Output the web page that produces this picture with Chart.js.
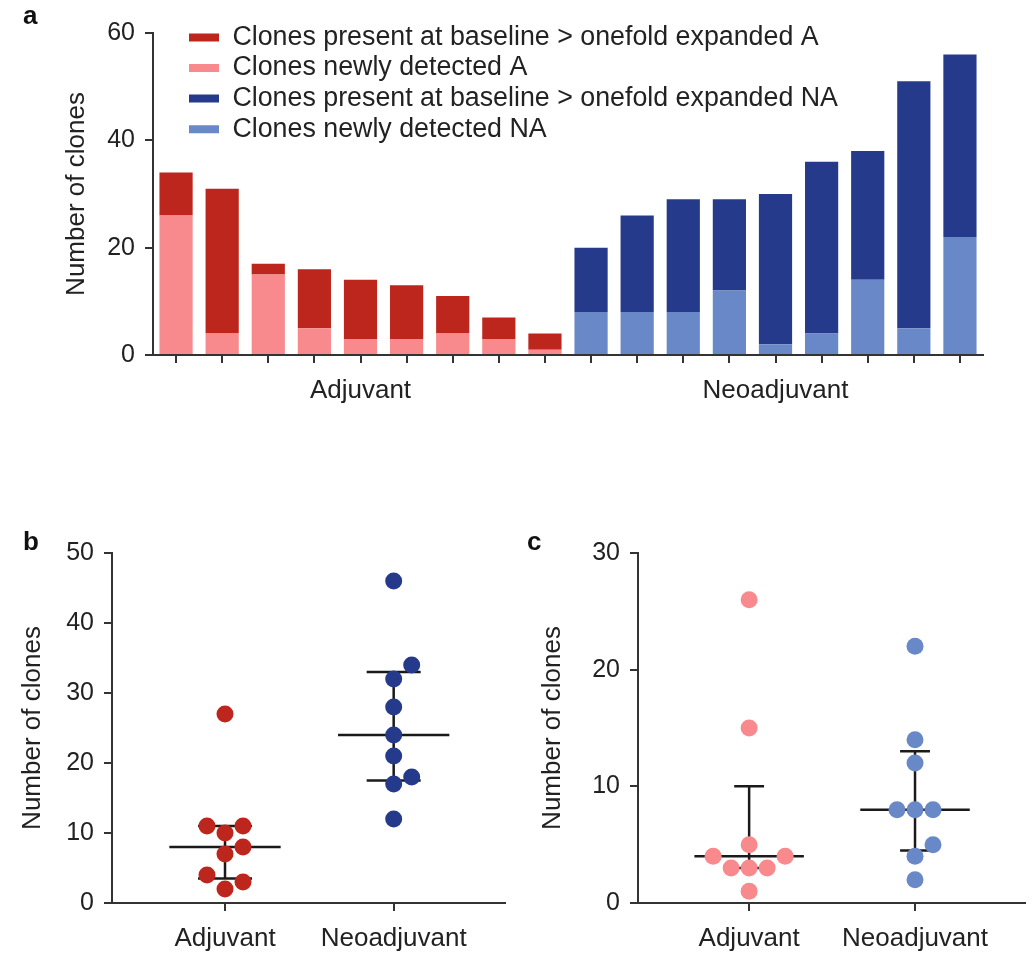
<!DOCTYPE html>
<html>
<head>
<meta charset="utf-8">
<script src="https://cdn.jsdelivr.net/npm/chart.js@4"></script>
<style>
  body { margin: 0; background: #fff; }
  #wrap { position: relative; width: 1033px; height: 959px; }
  canvas { position: absolute; }
  .tag { position: absolute; font: bold 26px 'Liberation Sans', Arial, sans-serif; line-height: 26px; color: #111; }
</style>
</head>
<body>
<div id="wrap">
  <canvas id="panelA" width="1033" height="420" style="left:0;top:0"></canvas>
  <canvas id="panelB" width="516" height="459" style="left:0;top:500px"></canvas>
  <canvas id="panelC" width="517" height="459" style="left:516px;top:500px"></canvas>
  <div class="tag" style="left:23px;top:2px">a</div>
  <div class="tag" style="left:23px;top:528px">b</div>
  <div class="tag" style="left:527px;top:528px">c</div>
</div>
<script>
// one bar per patient, 9 adjuvant then 9 neoadjuvant
const groups = ['Adjuvant', 'Neoadjuvant'];
const barLabels = ['', '', '', '', 'Adjuvant', '', '', '', '', '', '', '', '', 'Neoadjuvant', '', '', '', ''];

// clones per patient (panel a); same numbers feed panels b and c
const expandedA = [8, 27, 2, 11, 11, 10, 7, 4, 3];
const newA = [26, 4, 15, 5, 3, 3, 4, 3, 1];
const expandedNA = [12, 18, 21, 17, 28, 32, 24, 46, 34];
const newNA = [8, 8, 8, 12, 2, 4, 14, 5, 22];

const medianB = [8, 24];
const q1B = [3.5, 17.5];
const q3B = [11, 33];
const medianC = [4, 8];
const q1C = [3, 4.5];
const q3C = [10, 13];

const FONT = "'Liberation Sans', Arial, Helvetica, sans-serif";
const INK = '#222';
const RED = '#BD261D';
const PINK = '#F88A8E';
const NAVY = '#263A8C';
const LBLUE = '#6888C7';

Chart.defaults.font.family = FONT;
Chart.defaults.color = INK;
Chart.defaults.animation = false;

const blank = new Array(9).fill(null);
// legend lists dark before light, stacking needs light at the bottom
const legendRank = [1, 0, 3, 2];

const axisGrid = { drawOnChartArea: false, tickLength: 8, color: '#333', lineWidth: 2 };
const axisBorder = { color: '#333', width: 2 };

// Panel a: stacked bars
new Chart(document.getElementById('panelA'), {
  type: 'bar',
  data: {
    labels: barLabels,
    datasets: [
      { label: 'Clones newly detected A', data: newA.concat(blank), backgroundColor: PINK },
      { label: 'Clones present at baseline > onefold expanded A', data: expandedA.concat(blank), backgroundColor: RED },
      { label: 'Clones newly detected NA', data: blank.concat(newNA), backgroundColor: LBLUE },
      { label: 'Clones present at baseline > onefold expanded NA', data: blank.concat(expandedNA), backgroundColor: NAVY }
    ]
  },
  options: {
    responsive: false,
    layout: { padding: { left: 50, top: 33, right: 50, bottom: 0 } },
    datasets: { bar: { barPercentage: 0.72, categoryPercentage: 1, borderWidth: 0 } },
    plugins: {
      tooltip: { enabled: false },
      legend: {
        position: 'chartArea',
        align: 'start',
        labels: {
          boxWidth: 30,
          boxHeight: 8,
          padding: 3.8,
          color: INK,
          font: { size: 26.8 },
          sort: (a, b) => legendRank[a.datasetIndex] - legendRank[b.datasetIndex]
        }
      }
    },
    scales: {
      x: {
        stacked: true,
        grid: Object.assign({ offset: false }, axisGrid),
        border: axisBorder,
        ticks: { autoSkip: false, maxRotation: 0, padding: 12, font: { size: 26 } },
        afterFit: s => { s.height = 65; }
      },
      y: {
        stacked: true,
        min: 0,
        max: 60,
        grid: axisGrid,
        border: axisBorder,
        ticks: { stepSize: 20, padding: 10, font: { size: 25 } },
        title: { display: true, text: 'Number of clones', font: { size: 26 }, padding: { top: 11 } },
        afterFit: s => { s.width = 103; }
      }
    }
  },
  plugins: [{
    id: 'legendSpot',
    afterLayout(chart) {
      chart.legend.left = 189 - 3.8;
      chart.legend.top = 24 - 3.8;
    }
  }]
});

// beeswarm offsets (pixels) so dots with close values sit side by side
function swarm(values, pxPerY, step, minDist) {
  const order = values.map((v, i) => i).sort((a, b) => values[a] - values[b]);
  const placed = [];
  const dx = new Array(values.length).fill(0);
  order.forEach(i => {
    const y = values[i] * pxPerY;
    for (let k = 0; k < 40; k++) {
      const cand = k === 0 ? 0 : (k % 2 ? 1 : -1) * Math.ceil(k / 2) * step;
      if (placed.every(p => Math.hypot(p.x - cand, p.y - y) >= minDist)) {
        dx[i] = cand;
        placed.push({ x: cand, y: y });
        break;
      }
    }
  });
  return dx;
}

// median line, whisker and caps as one broken line
function statLines(med, q1, q3, medHalf, capHalf) {
  const pts = [];
  const gap = g => ({ x: g, y: null });
  med.forEach((m, g) => {
    pts.push({ x: g - medHalf, y: m }, { x: g + medHalf, y: m }, gap(g));
    pts.push({ x: g, y: q1[g] }, { x: g, y: q3[g] }, gap(g));
    pts.push({ x: g - capHalf, y: q1[g] }, { x: g + capHalf, y: q1[g] }, gap(g));
    pts.push({ x: g - capHalf, y: q3[g] }, { x: g + capHalf, y: q3[g] }, gap(g));
  });
  return pts;
}

function dotPanel(id, series, colors, med, q1, q3, capHalf, yMax, padLeft, yWidth, titlePad, padRight) {
  const chart = new Chart(document.getElementById(id), {
    type: 'scatter',
    data: {
      datasets: [
        { data: series[0].map(v => ({ x: 0, y: v })), backgroundColor: colors[0], pointRadius: 8.5, pointBorderWidth: 0, pointHoverRadius: 8.5 },
        { data: series[1].map(v => ({ x: 1, y: v })), backgroundColor: colors[1], pointRadius: 8.5, pointBorderWidth: 0, pointHoverRadius: 8.5 },
        { data: statLines(med, q1, q3, 0.33, capHalf), showLine: true, spanGaps: false, borderColor: '#1a1a1a', borderWidth: 2.5, pointRadius: 0, pointHoverRadius: 0 }
      ]
    },
    options: {
      responsive: false,
      layout: { padding: { left: padLeft, top: 53, right: padRight, bottom: 0 } },
      plugins: { legend: { display: false }, tooltip: { enabled: false } },
      scales: {
        x: {
          type: 'linear',
          min: -0.67,
          max: 1.66,
          grid: axisGrid,
          border: axisBorder,
          afterBuildTicks: axis => { axis.ticks = groups.map((g, i) => ({ value: i })); },
          ticks: { autoSkip: false, maxRotation: 0, padding: 12, font: { size: 26 }, callback: v => groups[v] },
          afterFit: s => { s.height = 56; }
        },
        y: {
          min: 0,
          max: yMax,
          grid: axisGrid,
          border: axisBorder,
          ticks: { stepSize: 10, padding: 10, font: { size: 25 } },
          title: { display: true, text: 'Number of clones', font: { size: 26 }, padding: { top: titlePad } },
          afterFit: s => { s.width = yWidth; }
        }
      }
    }
  });
  const xs = chart.scales.x, ys = chart.scales.y;
  const pxX = xs.getPixelForValue(1) - xs.getPixelForValue(0);
  const pxY = ys.getPixelForValue(0) - ys.getPixelForValue(1);
  series.forEach((vals, g) => {
    const dx = swarm(vals, pxY, 9, 17);
    chart.data.datasets[g].data = vals.map((v, i) => ({ x: g + dx[i] / pxX, y: v }));
  });
  chart.update('none');
}

// Panel b: expanded clones; Panel c: newly detected clones
dotPanel('panelB', [expandedA, expandedNA], [RED, NAVY], medianB, q1B, q3B, 0.16, 50, 10, 102, 7, 11);
dotPanel('panelC', [newA, newNA], [PINK, LBLUE], medianC, q1C, q3C, 0.09, 30, 10, 112, 11, 5);
</script>
</body>
</html>
